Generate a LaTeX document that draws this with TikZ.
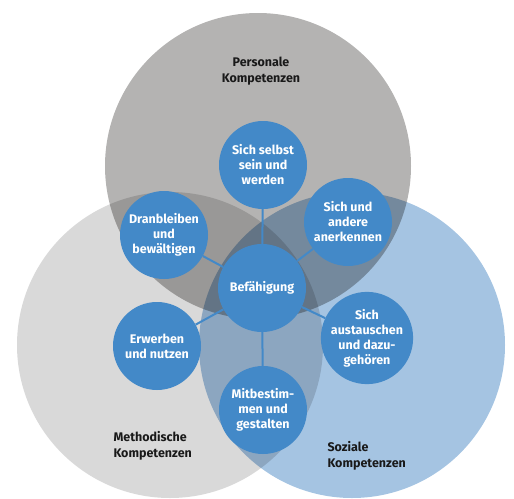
\documentclass[tikz,border=0pt]{standalone}
\usepackage{fontspec}
\setmainfont{Fira Sans}
\usepackage{xcolor}

\begin{document}
\begin{tikzpicture}[x=1pt,y=-1pt,
  kompnode/.style={circle,minimum size=88,inner sep=0,fill=kblue,text=white,
    font=\bfseries\fontsize{12.5}{15}\selectfont,align=center},
  bereich/.style={font=\bfseries\fontsize{12.5}{16}\selectfont,text=black!90}]
\definecolor{topgray}{HTML}{B4B3B2}
\definecolor{leftgray}{HTML}{D9D9D9}
\definecolor{rightblue}{HTML}{A5C4E2}
\definecolor{kblue}{HTML}{4389C8}
\useasboundingbox (0,0) rectangle (514,498);
\begin{scope}[blend mode=multiply]
  \foreach \crlr/\cx/\cy in {leftgray/170/345,topgray/258/166,rightblue/352/345}
  {  \fill [\crlr] (\cx,\cy) circle (153);}
\end{scope}
\node [bereich,align=center] (pers) at (261,71) {Personale\\Kompetenzen};
\node [bereich,align=left,anchor=west] (meth) at (110,446) {Methodische\\Kompetenzen};
\node [bereich,align=left,anchor=west] (soz) at (324,456) {Soziale\\Kompetenzen};
\node [kompnode] (bef) at (262,288) {Befähigung};
\node [kompnode] (selbst) at (263,165) {Sich selbst\\sein und\\werden};
\node [kompnode] (dran) at (164,235) {Dranbleiben\\und\\bewältigen};
\node [kompnode] (anerk) at (348,222) {Sich und\\andere\\anerkennen};
\node [kompnode] (erwerb) at (157,346) {Erwerben\\und nutzen};
\node [kompnode] (austausch) at (367,338) {Sich\\austauschen\\und dazu-\\gehören};
\node [kompnode] (mitbest) at (263,410) {Mitbestim-\\men und\\gestalten};
  \foreach \ziel in {selbst,dran,anerk,erwerb,austausch,mitbest}
  {  \draw [kblue,line width=2] (bef) -- (\ziel);}
\end{tikzpicture}
\end{document}
